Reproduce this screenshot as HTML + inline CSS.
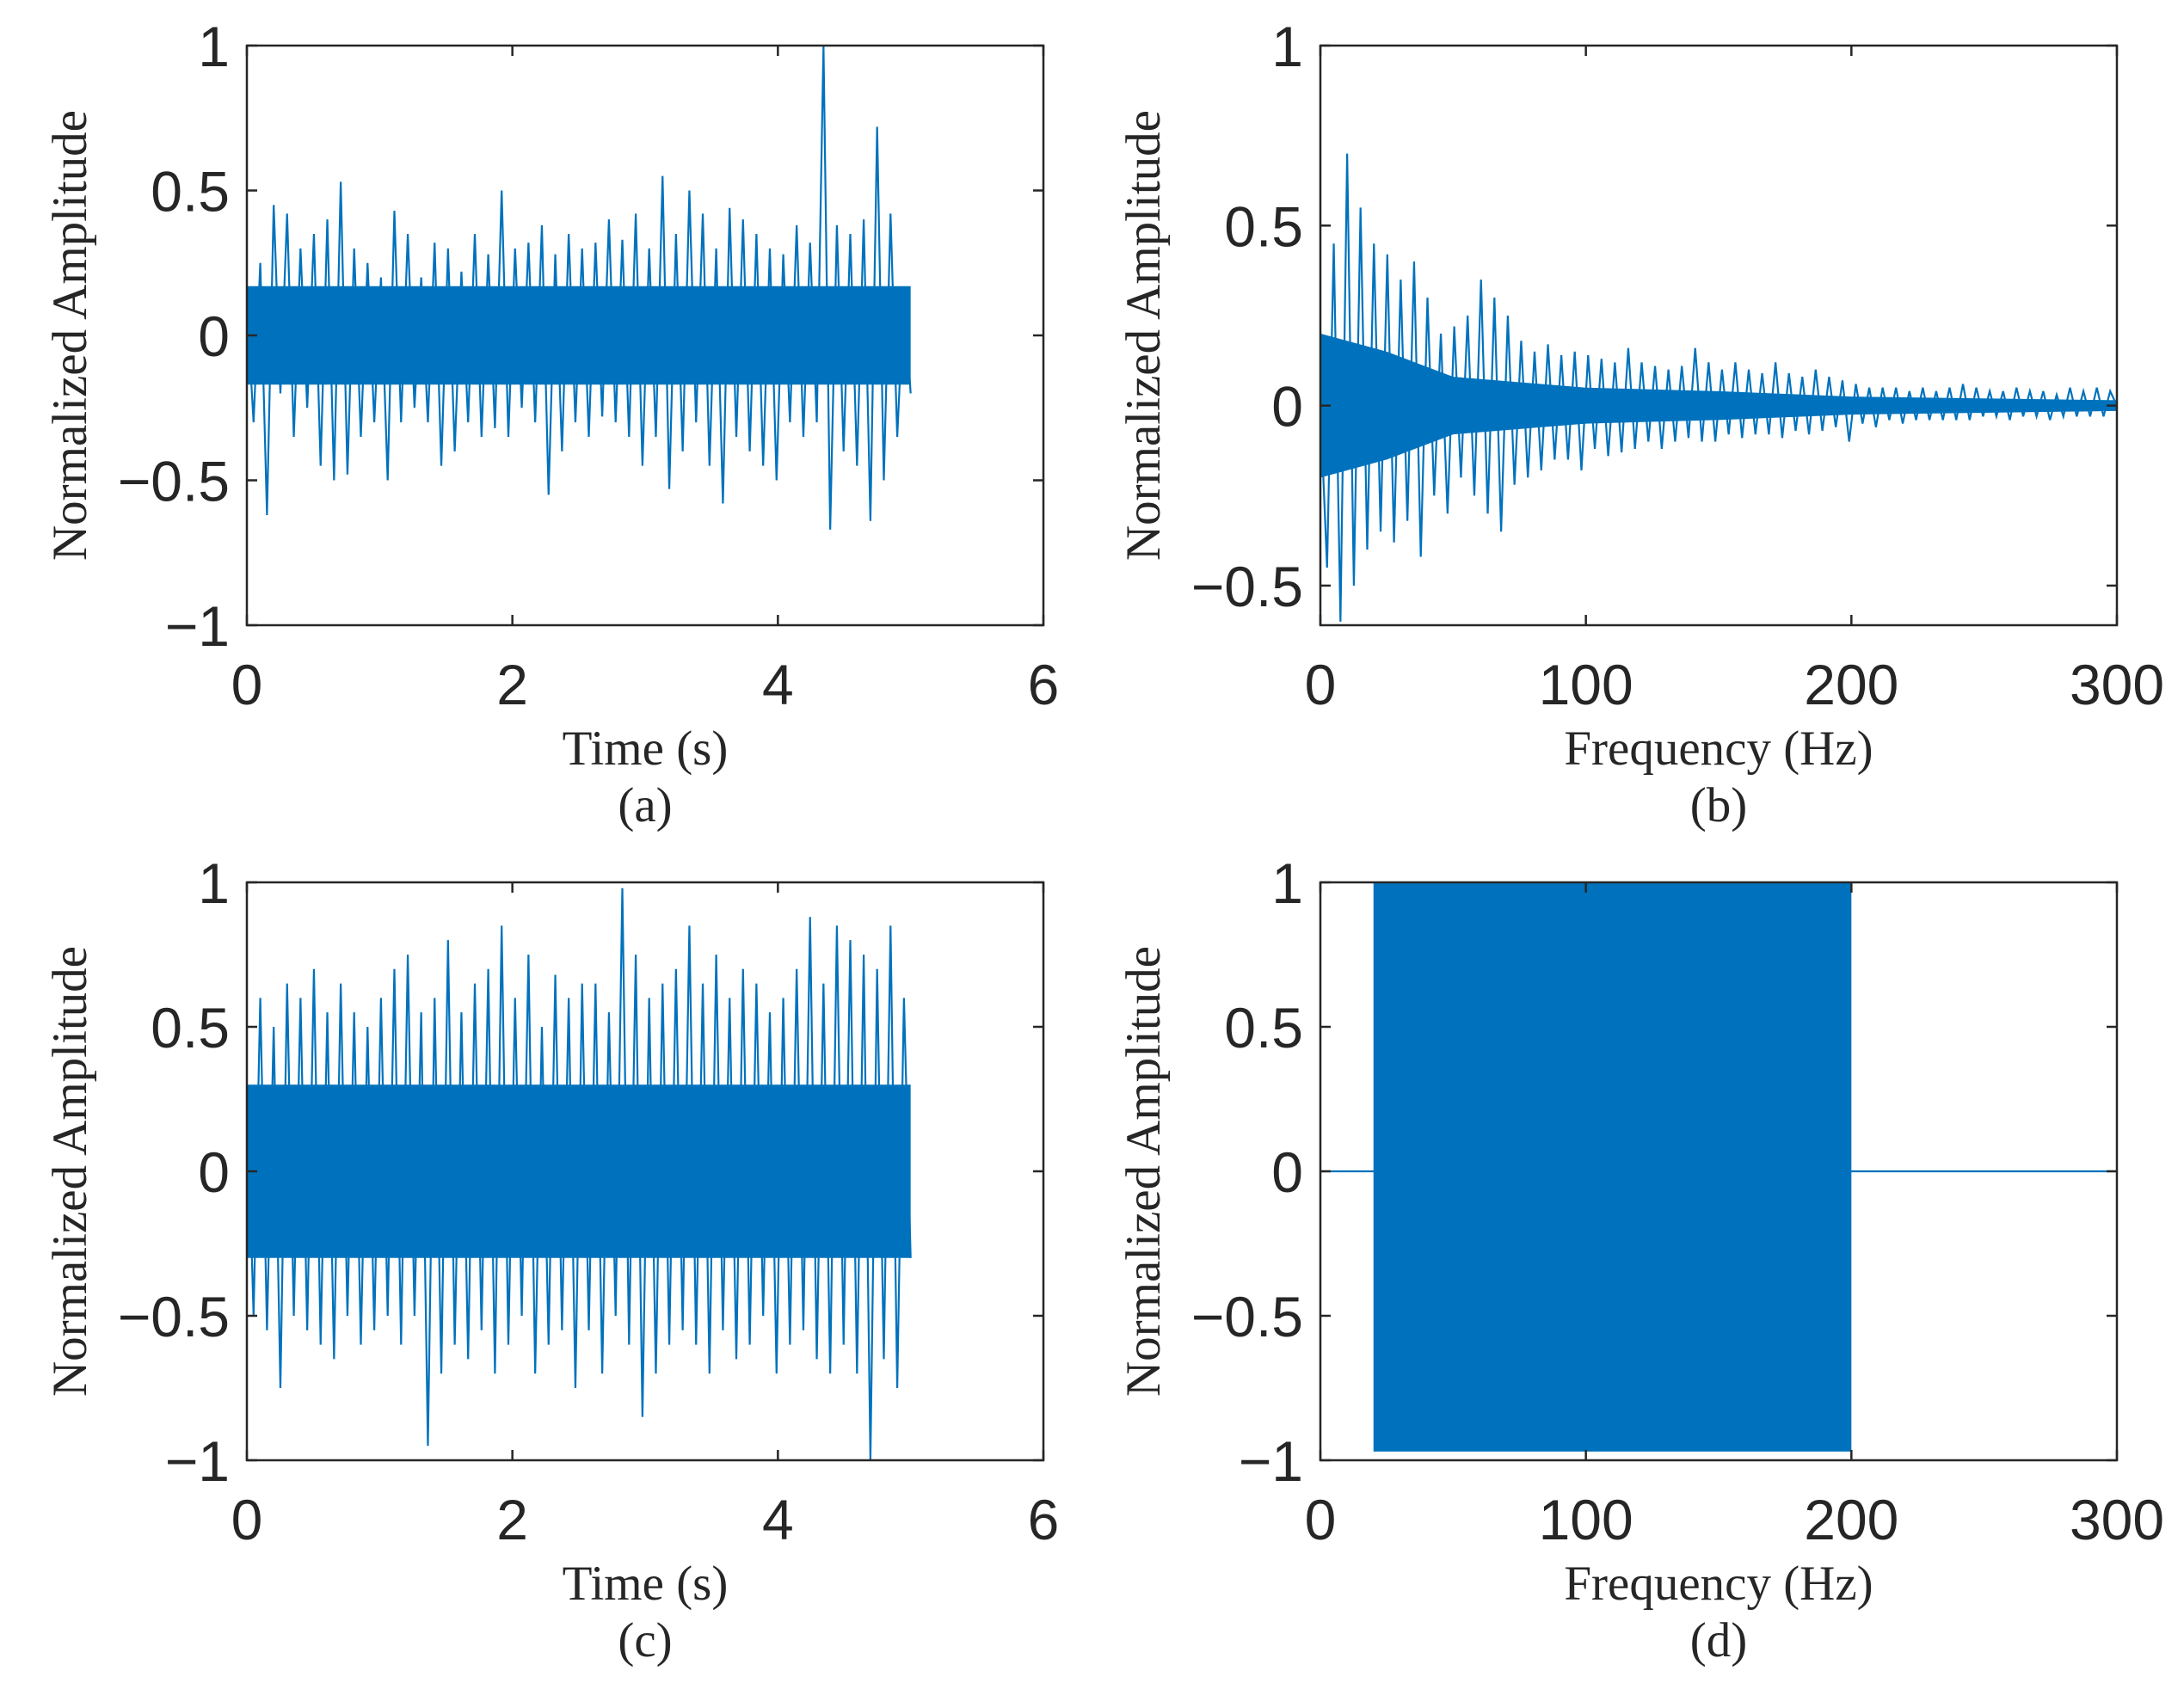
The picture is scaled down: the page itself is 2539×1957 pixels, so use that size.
<!DOCTYPE html>
<html><head><meta charset="utf-8"><style>
html,body{margin:0;padding:0;background:#fff}
svg{display:block}
.tk{font-family:"Liberation Sans",sans-serif;font-size:66px;fill:#262626}
.lb{font-family:"Liberation Serif",serif;font-size:57px;fill:#262626}
</style></head><body>
<svg id="fig" width="2539" height="1957" viewBox="0 0 2539 1957" xmlns="http://www.w3.org/2000/svg"></svg>
<script>
// ---- data ----
const sigA = [0.1,-0.3,0.25,-0.62,0.45,-0.2,0.42,-0.35,0.3,-0.25,0.35,-0.45,0.4,-0.5,0.53,-0.48,0.3,-0.35,0.25,-0.3,0.2,-0.5,0.43,-0.3,0.35,-0.25,0.2,-0.3,0.32,-0.45,0.3,-0.4,0.22,-0.3,0.35,-0.35,0.28,-0.32,0.5,-0.35,0.3,-0.25,0.32,-0.3,0.38,-0.55,0.28,-0.4,0.35,-0.3,0.3,-0.35,0.32,-0.28,0.4,-0.3,0.33,-0.35,0.42,-0.45,0.3,-0.35,0.55,-0.53,0.35,-0.4,0.5,-0.3,0.42,-0.45,0.3,-0.58,0.44,-0.35,0.4,-0.4,0.35,-0.45,0.3,-0.5,0.28,-0.3,0.38,-0.35,0.32,-0.3,1.0,-0.67,0.38,-0.4,0.35,-0.45,0.4,-0.64,0.72,-0.5,0.42,-0.35,0.15,-0.2];
const coreA = [0.17,0.17,0.17,0.17,0.17,0.17,0.17,0.17,0.17,0.17,0.17];
const sigB = [0.0,-0.45,0.45,-0.6,0.7,-0.5,0.55,-0.4,0.45,-0.35,0.42,-0.38,0.35,-0.32,0.4,-0.42,0.3,-0.25,0.2,-0.3,0.22,-0.2,0.25,-0.25,0.35,-0.3,0.3,-0.35,0.25,-0.22,0.18,-0.2,0.15,-0.18,0.17,-0.15,0.14,-0.15,0.15,-0.18,0.14,-0.12,0.13,-0.14,0.12,-0.13,0.16,-0.12,0.12,-0.1,0.11,-0.12,0.1,-0.1,0.11,-0.09,0.16,-0.1,0.12,-0.1,0.1,-0.08,0.12,-0.09,0.1,-0.08,0.09,-0.08,0.12,-0.09,0.09,-0.07,0.08,-0.08,0.1,-0.07,0.08,-0.06,0.07,-0.1,0.06,-0.05,0.05,-0.06,0.05,-0.04,0.05,-0.05,0.04,-0.04,0.05,-0.04,0.04,-0.04,0.05,-0.04,0.06,-0.04,0.05,-0.03,0.04,-0.03,0.04,-0.04,0.05,-0.03,0.04,-0.03,0.04,-0.04,0.03,-0.03,0.05,-0.03,0.04,-0.03,0.05,-0.03,0.04,0.0];
const coreBf = [0,25,50,100,150,200,250,300];
const coreB = [0.2,0.15,0.08,0.05,0.04,0.025,0.02,0.015];
const sigC = [0.3,-0.5,0.6,-0.55,0.5,-0.75,0.65,-0.5,0.6,-0.55,0.7,-0.6,0.55,-0.65,0.65,-0.5,0.55,-0.6,0.5,-0.55,0.6,-0.5,0.7,-0.6,0.75,-0.5,0.55,-0.95,0.6,-0.7,0.8,-0.6,0.55,-0.65,0.65,-0.55,0.7,-0.7,0.85,-0.6,0.6,-0.5,0.75,-0.7,0.5,-0.6,0.68,-0.55,0.6,-0.75,0.65,-0.55,0.65,-0.7,0.55,-0.5,0.98,-0.6,0.75,-0.85,0.6,-0.7,0.65,-0.6,0.7,-0.55,0.85,-0.6,0.65,-0.7,0.75,-0.55,0.6,-0.65,0.7,-0.6,0.65,-0.5,0.55,-0.7,0.6,-0.6,0.7,-0.55,0.88,-0.65,0.65,-0.7,0.85,-0.6,0.8,-0.7,0.75,-1.0,0.7,-0.65,0.85,-0.75,0.6,-0.3];
const coreC = [0.3,0.3,0.3,0.3,0.3,0.3,0.3,0.3,0.3,0.3,0.3];
const bandDf = [20,200];
const bandDhi = [1.0,1.0];
const bandDlo = [-0.97,-0.97];
const ticksT = ["0","2","4","6"];
const ticksF = ["0","100","200","300"];
const ticksY = ["1","0.5","0","\u22120.5","\u22121"];
const ticksYb = ["1","0.5","0","\u22120.5"];

const NS="http://www.w3.org/2000/svg";
const svg=document.getElementById('fig');
function mk(tag,at,parent){const e=document.createElementNS(NS,tag);for(const k in at)e.setAttribute(k,at[k]);(parent||svg).appendChild(e);return e;}
const COL="#0072BD";

function panel(p){
  const g=mk('g',{});
  
  
  const sx=v=>p.L+(v-p.x0)/(p.x1-p.x0)*(p.R-p.L);
  const sy=v=>p.B-(v-p.y0)/(p.y1-p.y0)*(p.B-p.T);
  const clipId='clip'+p.id;
  const cp=mk('clipPath',{id:clipId},g);mk('rect',{x:p.L,y:p.T,width:p.R-p.L,height:p.B-p.T},cp);
  const dg=mk('g',{'clip-path':'url(#'+clipId+')'},g);
  
  
  if(p.draw) p.draw(dg,sx,sy);
  const box=mk('rect',{x:p.L,y:p.T,width:p.R-p.L,height:p.B-p.T,fill:'none',stroke:'#262626','stroke-width':2.5},g);
  
  
  const tl=12;
  p.xt.forEach((t,i)=>{const v=p.xv[i];const x=sx(v);
    mk('line',{x1:x,y1:p.B,x2:x,y2:p.B-tl,stroke:'#262626','stroke-width':2.5},g);
    mk('line',{x1:x,y1:p.T,x2:x,y2:p.T+tl,stroke:'#262626','stroke-width':2.5},g);
    const tx=mk('text',{x:x,y:p.B+92,'text-anchor':'middle',class:'tk'},g);tx.textContent=t;
    
    
  });
  p.yt.forEach((t,i)=>{const v=p.yv[i];const y=sy(v);
    mk('line',{x1:p.L,y1:y,x2:p.L+tl,y2:y,stroke:'#262626','stroke-width':2.5},g);
    mk('line',{x1:p.R,y1:y,x2:p.R-tl,y2:y,stroke:'#262626','stroke-width':2.5},g);
    const tx=mk('text',{x:p.L-20,y:y+24,'text-anchor':'end',class:'tk'},g);tx.textContent=t;
    
    
  });
  const cx=(p.L+p.R)/2,cy=(p.T+p.B)/2;
  const xl=mk('text',{x:cx,y:p.B+162,'text-anchor':'middle',class:'lb'},g);xl.textContent=p.xlabel;
  
  
  const yl=mk('text',{x:0,y:0,'text-anchor':'middle',class:'lb',transform:'translate('+(p.L-187)+','+cy+') rotate(-90)'},g);yl.textContent='Normalized Amplitude';
  
  
  const cap=mk('text',{x:cx,y:p.B+228,'text-anchor':'middle',class:'lb'},g);cap.textContent='('+p.id+')';
  
  
}

function coreBand(g,sx,sy,xs,hi,lo){
  let d='';xs.forEach((x,i)=>{d+=(i?'L':'M')+sx(x)+','+sy(hi[i]);});
  for(let i=xs.length-1;i>=0;i--)d+='L'+sx(xs[i])+','+sy(lo[i]);
  const e=mk('path',{d:d+'Z',fill:COL},g);
  
  
}
function sigLine(g,sx,sy,vals,x0,x1){
  const pts=vals.map((v,i)=>sx(x0+(x1-x0)*i/(vals.length-1))+','+sy(v)).join(' ');
  const e=mk('polyline',{points:pts,fill:'none',stroke:COL,'stroke-width':2.2},g);
  
  
}
const evenX=(n,a,b)=>Array.from({length:n},(_,i)=>a+(b-a)*i/(n-1));

panel({id:'a',L:287,R:1213,T:53,B:727,x0:0,x1:6,y0:-1,y1:1,xt:ticksT,xv:[0,2,4,6],yt:ticksY,yv:[1,0.5,0,-0.5,-1],xlabel:'Time (s)',
  draw:(g,sx,sy)=>{coreBand(g,sx,sy,evenX(coreA.length,0,5),coreA,coreA.map(v=>-v));sigLine(g,sx,sy,sigA,0,5);}});
panel({id:'b',L:1535,R:2461,T:53,B:727,x0:0,x1:300,y0:-0.61,y1:1,xt:ticksF,xv:[0,100,200,300],yt:ticksYb,yv:[1,0.5,0,-0.5],xlabel:'Frequency (Hz)',
  draw:(g,sx,sy)=>{coreBand(g,sx,sy,coreBf,coreB,coreB.map(v=>-v));sigLine(g,sx,sy,sigB,0,300);}});
panel({id:'c',L:287,R:1213,T:1026,B:1698,x0:0,x1:6,y0:-1,y1:1,xt:ticksT,xv:[0,2,4,6],yt:ticksY,yv:[1,0.5,0,-0.5,-1],xlabel:'Time (s)',
  draw:(g,sx,sy)=>{coreBand(g,sx,sy,evenX(coreC.length,0,5),coreC,coreC.map(v=>-v));sigLine(g,sx,sy,sigC,0,5);}});
panel({id:'d',L:1535,R:2461,T:1026,B:1698,x0:0,x1:300,y0:-1,y1:1,xt:ticksF,xv:[0,100,200,300],yt:ticksY,yv:[1,0.5,0,-0.5,-1],xlabel:'Frequency (Hz)',
  draw:(g,sx,sy)=>{
    const z=mk('line',{x1:sx(0),y1:sy(0),x2:sx(300),y2:sy(0),stroke:COL,'stroke-width':2.2},g);
    
    
    coreBand(g,sx,sy,bandDf,bandDhi,bandDlo);}});
</script>
</body></html>
